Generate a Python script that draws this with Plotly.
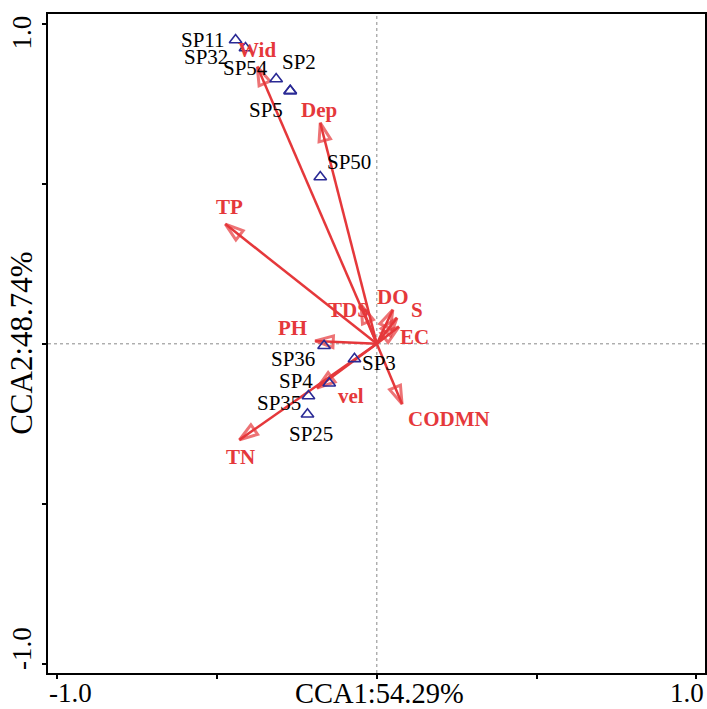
import plotly.graph_objects as go

# ---- data ----
species = ["SP11", "SP32", "SP54", "SP2", "SP5", "SP50", "SP36", "SP3", "SP4", "SP35", "SP25"]
sp_x = [-0.442, -0.411, -0.315, -0.271, -0.271, -0.177, -0.165, -0.070, -0.149, -0.214, -0.217]
sp_y = [0.949, 0.924, 0.827, 0.790, 0.790, 0.521, -0.006, -0.047, -0.123, -0.163, -0.220]

env = ["Wid", "Dep", "TP", "TDS", "DO", "S", "EC", "PH", "vel", "TN", "CODMN"]
env_x = [-0.374, -0.177, -0.474, -0.049, 0.050, 0.063, 0.069, -0.193, -0.187, -0.430, 0.079]
env_y = [0.865, 0.690, 0.374, 0.121, 0.106, 0.081, 0.053, 0.009, -0.138, -0.300, -0.188]

x_tick_vals = [-1.0, -0.5, 0.0, 0.5, 1.0]
x_tick_text = ["-1.0", "", "CCA1:54.29%", "", "1.0"]
y_tick_vals = [1.0, 0.5, 0.0, -0.5, -1.0]
y_tick_text = ["1.0", "", "CCA2:48.74%", "", "-1.0"]

# ---- styles ----
RED = "#E5383B"
NAVY = "#2A2A95"
FONT = "Liberation Serif"

# label pixel offsets (style only)
sp_off = {"SP11": (-33, 0), "SP32": (-39, -9), "SP54": (-31, 11), "SP2": (9, 29),
          "SP5": (-24, -19), "SP50": (29, 15), "SP36": (-31, -13), "SP3": (25, -4),
          "SP4": (-33, 2), "SP35": (-29, -7), "SP25": (4, -20)}
env_off = {"Wid": (0, 17), "Dep": (-1, 13), "TP": (4, 17), "TDS": (-13, -5), "DO": (0, 13),
           "S": (20, 8), "EC": (16, -10), "PH": (-23, 13), "vel": (34, -8), "TN": (1, -17),
           "CODMN": (47, -15)}

fig = go.Figure()

for name, xt, yt in zip(env, env_x, env_y):
    fig.add_trace(go.Scatter(
        x=[0, xt], y=[0, yt], mode="lines+markers",
        line=dict(color=RED, width=2.5),
        marker=dict(symbol=["circle", "arrow-open"], size=[0, 19], angleref="previous",
                    color=RED, line=dict(color=RED, width=3)),
        hoverinfo="skip", showlegend=False))

fig.add_trace(go.Scatter(
    x=sp_x, y=sp_y, mode="markers",
    marker=dict(symbol="triangle-up-open", size=11, color=NAVY, line=dict(width=1.6, color=NAVY)),
    showlegend=False))

annotations = []
for name, xs, ys in zip(species, sp_x, sp_y):
    dx, dy = sp_off[name]
    annotations.append(dict(x=xs, y=ys, xref="x", yref="y", text=name, showarrow=False,
                            xshift=dx, yshift=dy, font=dict(family=FONT, size=21, color="black")))
for name, xt, yt in zip(env, env_x, env_y):
    dx, dy = env_off[name]
    annotations.append(dict(x=xt, y=yt, xref="x", yref="y", text="<b>%s</b>" % name, showarrow=False,
                            xshift=dx, yshift=dy, font=dict(family=FONT, size=21, color=RED)))

# axis tick labels placed as text on the axes' tick positions
x_shift = {-1.0: 13, 0.0: 3, 1.0: -9}
x_size = {-1.0: 27, 0.0: 28.5, 1.0: 27}
for v, t in zip(x_tick_vals, x_tick_text):
    if t:
        annotations.append(dict(x=v, y=0, xref="x", yref="paper", text=t, showarrow=False,
                                yanchor="top", yshift=-3, xshift=x_shift[v],
                                font=dict(family=FONT, size=x_size[v], color="black")))
y_shift = {1.0: -9, 0.0: 0, -1.0: 15}
y_size = {1.0: 27, 0.0: 31, -1.0: 27}
for v, t in zip(y_tick_vals, y_tick_text):
    if t:
        annotations.append(dict(x=0, y=v, xref="paper", yref="y", text=t, showarrow=False,
                                textangle=-90, xanchor="center", xshift=-26, yshift=y_shift[v],
                                font=dict(family=FONT, size=y_size[v], color="black")))

fig.update_layout(
    width=707, height=709,
    margin=dict(l=48, r=0, t=14, b=36),
    paper_bgcolor="white", plot_bgcolor="white",
    annotations=annotations,
    shapes=[
        dict(type="line", xref="x", yref="paper", x0=0, x1=0, y0=0, y1=1,
             line=dict(color="#8a8a8a", width=1, dash="dot"), layer="below"),
        dict(type="line", xref="paper", yref="y", x0=0, x1=1, y0=0, y1=0,
             line=dict(color="#8a8a8a", width=1, dash="dot"), layer="below"),
    ],
    xaxis=dict(range=[-1.029, 1.027], showline=True, linecolor="black", linewidth=2, mirror=True,
               ticks="outside", ticklen=4, tickwidth=1.5, tickcolor="black",
               tickvals=x_tick_vals, showticklabels=False, showgrid=False, zeroline=False),
    yaxis=dict(range=[-1.028, 1.030], showline=True, linecolor="black", linewidth=2, mirror=True,
               ticks="outside", ticklen=4, tickwidth=1.5, tickcolor="black",
               tickvals=y_tick_vals, showticklabels=False, showgrid=False, zeroline=False),
)

fig.write_html("out.html", config={"displayModeBar": False})

# remove the browser's default page margin so the chart sits at the window's top-left corner
with open("out.html", "r", encoding="utf-8") as f:
    html = f.read()
html = html.replace("<head>", "<head><style>html,body{margin:0;padding:0;overflow:hidden;}</style>", 1)
with open("out.html", "w", encoding="utf-8") as f:
    f.write(html)
